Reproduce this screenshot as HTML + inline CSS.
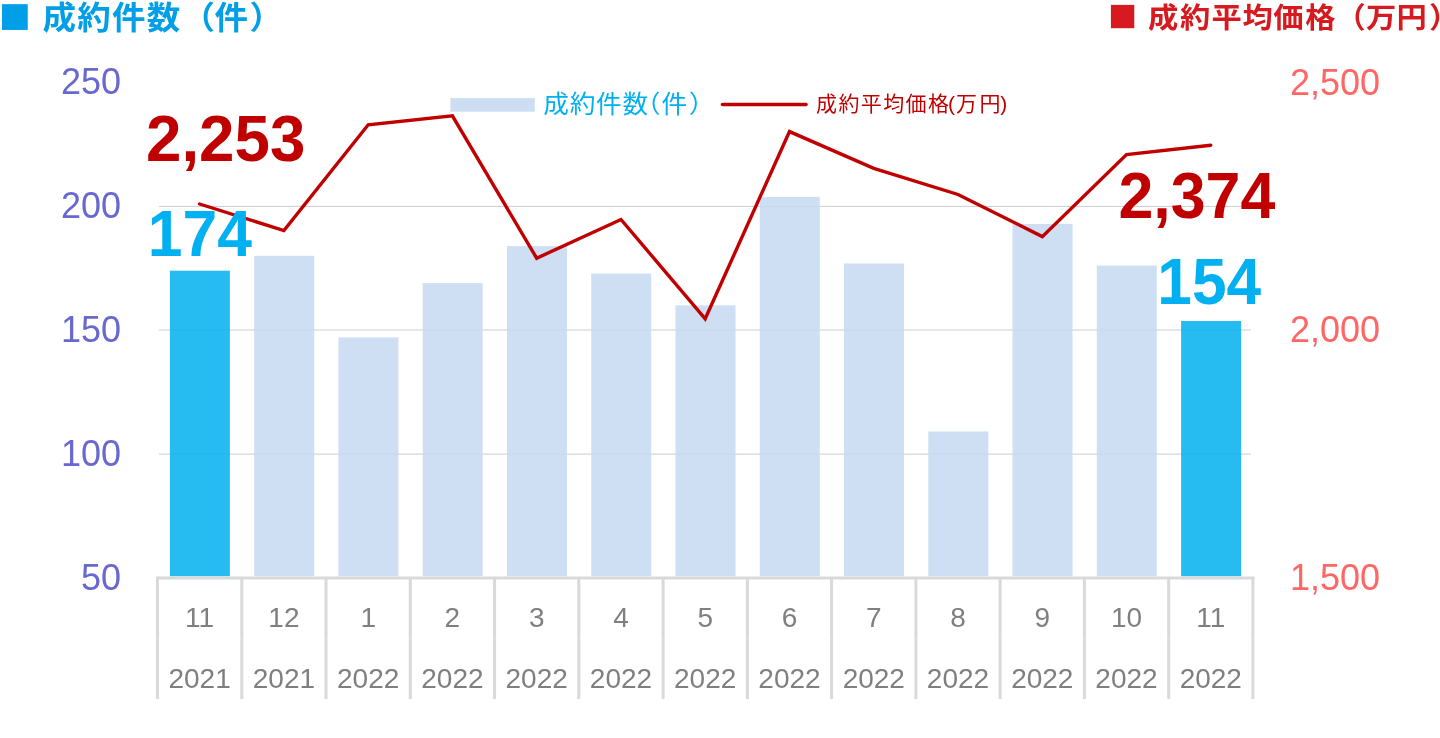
<!DOCTYPE html>
<html lang="ja"><head><meta charset="utf-8"><title>成約件数・成約平均価格</title>
<style>
html,body{margin:0;padding:0;background:#fff;}
body{width:1440px;height:738px;overflow:hidden;}
svg{display:block;will-change:transform;}
.num{font-family:"Liberation Sans",sans-serif;}
.jp{font-family:"Liberation Sans","Noto Sans CJK JP",sans-serif;}
</style></head><body>
<svg width="1440" height="738" viewBox="0 0 1440 738">
<rect x="0" y="0" width="1440" height="738" fill="#ffffff"/>

<g stroke="#cccccc" stroke-width="1">
<line x1="159.1" y1="454.1" x2="1251" y2="454.1"/>
<line x1="159.1" y1="330.0" x2="1251" y2="330.0"/>
<line x1="159.1" y1="206.4" x2="1251" y2="206.4"/>
</g>
<g>
<rect x="169.9" y="270.7" width="60.0" height="305.6" fill="#00b0f0" fill-opacity="0.85"/>
<rect x="254.2" y="255.8" width="60.0" height="320.5" fill="#c5d9f1" fill-opacity="0.85"/>
<rect x="338.4" y="337.4" width="60.0" height="238.9" fill="#c5d9f1" fill-opacity="0.85"/>
<rect x="422.7" y="283.1" width="60.0" height="293.2" fill="#c5d9f1" fill-opacity="0.85"/>
<rect x="507.0" y="246.1" width="60.0" height="330.2" fill="#c5d9f1" fill-opacity="0.85"/>
<rect x="591.2" y="273.6" width="60.0" height="302.7" fill="#c5d9f1" fill-opacity="0.85"/>
<rect x="675.5" y="305.3" width="60.0" height="271.0" fill="#c5d9f1" fill-opacity="0.85"/>
<rect x="759.8" y="196.9" width="60.0" height="379.4" fill="#c5d9f1" fill-opacity="0.85"/>
<rect x="844.0" y="263.5" width="60.0" height="312.8" fill="#c5d9f1" fill-opacity="0.85"/>
<rect x="928.3" y="431.5" width="60.0" height="144.8" fill="#c5d9f1" fill-opacity="0.85"/>
<rect x="1012.5" y="224.0" width="60.0" height="352.3" fill="#c5d9f1" fill-opacity="0.85"/>
<rect x="1096.8" y="265.6" width="60.0" height="310.7" fill="#c5d9f1" fill-opacity="0.85"/>
<rect x="1181.1" y="321.0" width="60.0" height="255.3" fill="#00b0f0" fill-opacity="0.85"/>
</g>
<g stroke="#d9d9d9" stroke-width="3" fill="none">
<line x1="156" y1="577.9" x2="1254.5" y2="577.9"/>
<path d="M157.5 577V638.2M157.5 638.5V699"/>
<path d="M241.8 577V638.2M241.8 638.5V699"/>
<path d="M326.0 577V638.2M326.0 638.5V699"/>
<path d="M410.3 577V638.2M410.3 638.5V699"/>
<path d="M494.6 577V638.2M494.6 638.5V699"/>
<path d="M578.8 577V638.2M578.8 638.5V699"/>
<path d="M663.1 577V638.2M663.1 638.5V699"/>
<path d="M747.4 577V638.2M747.4 638.5V699"/>
<path d="M831.6 577V638.2M831.6 638.5V699"/>
<path d="M915.9 577V638.2M915.9 638.5V699"/>
<path d="M1000.1 577V638.2M1000.1 638.5V699"/>
<path d="M1084.4 577V638.2M1084.4 638.5V699"/>
<path d="M1168.7 577V638.2M1168.7 638.5V699"/>
<path d="M1252.9 577V638.2M1252.9 638.5V699"/>
</g>
<g class="num" font-size="28" fill="#7f7f7f" text-anchor="middle">
<text x="199.6" y="627">11</text>
<text x="199.6" y="687.5">2021</text>
<text x="283.9" y="627">12</text>
<text x="283.9" y="687.5">2021</text>
<text x="368.2" y="627">1</text>
<text x="368.2" y="687.5">2022</text>
<text x="452.4" y="627">2</text>
<text x="452.4" y="687.5">2022</text>
<text x="536.7" y="627">3</text>
<text x="536.7" y="687.5">2022</text>
<text x="621.0" y="627">4</text>
<text x="621.0" y="687.5">2022</text>
<text x="705.2" y="627">5</text>
<text x="705.2" y="687.5">2022</text>
<text x="789.5" y="627">6</text>
<text x="789.5" y="687.5">2022</text>
<text x="873.8" y="627">7</text>
<text x="873.8" y="687.5">2022</text>
<text x="958.0" y="627">8</text>
<text x="958.0" y="687.5">2022</text>
<text x="1042.3" y="627">9</text>
<text x="1042.3" y="687.5">2022</text>
<text x="1126.5" y="627">10</text>
<text x="1126.5" y="687.5">2022</text>
<text x="1210.8" y="627">11</text>
<text x="1210.8" y="687.5">2022</text>
</g>
<g class="num" font-size="36" fill="#6868d0" text-anchor="end">
<text x="121" y="94.2">250</text>
<text x="121" y="218.1">200</text>
<text x="121" y="341.9">150</text>
<text x="121" y="465.9">100</text>
<text x="121" y="589.6">50</text>
</g>
<g class="num" font-size="36" fill="#ff6666" text-anchor="start">
<text x="1290" y="95.1">2,500</text>
<text x="1290" y="342.3">2,000</text>
<text x="1290" y="589.6">1,500</text>
</g>
<polyline points="199.6,204.0 283.9,230.5 368.2,124.8 452.4,115.8 536.7,258.2 621.0,219.5 705.2,318.8 789.5,131.6 873.8,168.4 958.0,194.5 1042.3,236.6 1126.5,154.6 1210.8,145.2" fill="none" stroke="#c00000" stroke-width="3.4" stroke-linejoin="miter" stroke-miterlimit="3" stroke-linecap="round"/>
<rect x="450.4" y="98.1" width="84.4" height="13.6" fill="#cddef3"/>
<text class="jp" transform="translate(0,112.8) scale(1,0.965)" x="543.3 569.7 596.1 622.5 634.7 661.5 689.0" y="0" font-size="25.7" fill="#00b0f0">成約件数（件）</text>
<line x1="722.5" y1="104.5" x2="806" y2="104.5" stroke="#c00000" stroke-width="3.6" stroke-linecap="round"/>
<text class="jp" x="816.0 838.4 860.8 883.2 905.6 928.0 948.1 956.1 979.4 1000.3" y="111" font-size="21" fill="#c00000">成約平均価格(万円)</text>
<g class="num" font-weight="bold" font-size="64.3">
<text x="146" y="160.8" fill="#c00000" textLength="159.4" lengthAdjust="spacingAndGlyphs">2,253</text>
<text x="147.8" y="255.6" fill="#00b0f0" textLength="104.1" lengthAdjust="spacingAndGlyphs">174</text>
<text x="1118.4" y="218.2" fill="#c00000" textLength="156.9" lengthAdjust="spacingAndGlyphs">2,374</text>
<text x="1157.3" y="304.4" fill="#00b0f0" textLength="103.8" lengthAdjust="spacingAndGlyphs">154</text>
</g>
<text class="num" x="-1.2" y="32.9" font-size="53.3" fill="#009fe8">■</text>
<text class="jp" transform="translate(0.3,28.9) scale(1,0.95)" x="42.3 77.0 111.7 146.4 181.1 214.3 249.3" y="0" font-size="33.5" font-weight="bold" fill="#009fe8">成約件数（件）</text>
<text class="num" x="1108.1" y="30.7" font-size="48.3" fill="#d71a20">■</text>
<text class="jp" transform="translate(0,27.6) scale(1,0.955)" x="1148.0 1180.0 1211.5 1242.4 1273.3 1305.3 1335.6 1366.0 1396.6 1428.9" y="0" font-size="30.3" font-weight="bold" fill="#d71a20">成約平均価格（万円）</text>
</svg>
</body></html>
